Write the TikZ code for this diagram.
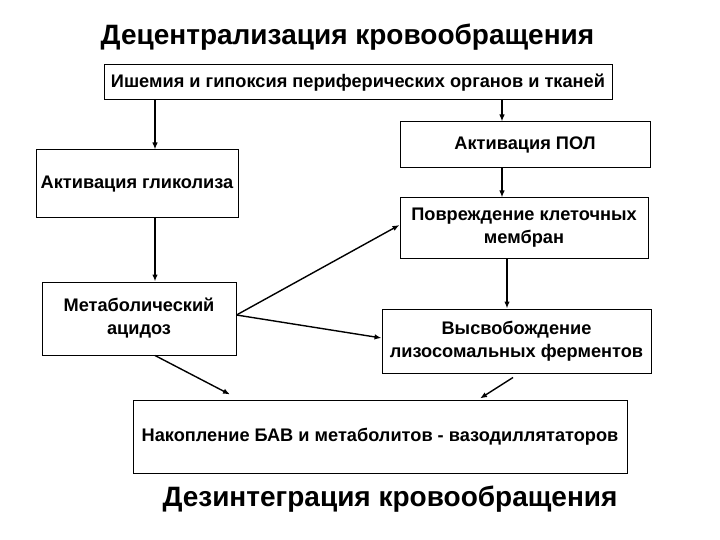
\documentclass[tikz,border=0pt]{standalone}
\usepackage{fontspec}
\setmainfont{Liberation Sans}
\usetikzlibrary{arrows.meta}
\begin{document}
\begin{tikzpicture}[x=1pt,y=-1pt,
  box/.style={draw, line width=1pt, fill=white, inner sep=0pt, align=center, font=\fontsize{18.2}{23}\selectfont\bfseries},
  arr/.style={draw, line width=1.4pt, -{Latex[length=7pt,width=5.5pt]}},
  ttl/.style={font=\fontsize{28}{32}\selectfont\bfseries}]
\useasboundingbox (0,0) rectangle (720,540);
\fill[white] (0,0) rectangle (720,540);
\node[ttl] (t1) at (347.5,37) {Децентрализация кровообращения};
\node[ttl] (t2) at (390,499) {Дезинтеграция кровообращения};
\node[box, minimum width=508pt, minimum height=35pt] (top) at (358,82.5) {Ишемия и гипоксия периферических органов и тканей};
\node[box, minimum width=250pt, minimum height=46pt] (pol) at (525,145) {Активация ПОЛ};
\node[box, minimum width=202pt, minimum height=68pt] (glyc) at (137,184) {Активация гликолиза};
\node[box, minimum width=248pt, minimum height=60pt] (dmg) at (524,228) {Повреждение клеточных\\мембран};
\node[box, minimum width=194pt, minimum height=73pt] (met) at (139,318.5) {Метаболический\\ацидоз};
\node[box, minimum width=269pt, minimum height=64pt] (rel) at (516.5,341) {Высвобождение\\лизосомальных ферментов};
\node[box, minimum width=494pt, minimum height=73pt] (bav) at (380,436.5) {Накопление БАВ и метаболитов - вазодиллятаторов};
\draw[arr] ([xshift=18pt]glyc.north |- top.south) -- ([xshift=18pt]glyc.north);
\draw[arr] ([xshift=-23pt]pol.north |- top.south) -- ([xshift=-23pt]pol.north);
\draw[arr] ([xshift=-23pt]pol.south) -- ([xshift=-23pt]pol.south |- dmg.north);
\draw[arr] ([xshift=-17pt]dmg.south) -- ([xshift=-17pt]dmg.south |- rel.north);
\draw[arr] ([xshift=18pt]glyc.south) -- ([xshift=18pt]glyc.south |- met.north);
\draw[arr] ([yshift=3.5pt]met.east) -- ([yshift=3pt]dmg.west);
\draw[arr] ([yshift=3.5pt]met.east) -- ([yshift=3pt]rel.west);
\draw[arr] ([xshift=16pt]met.south) -- ([xshift=-150pt,yshift=5pt]bav.north);
\draw[arr] ([xshift=-3.5pt,yshift=-4pt]rel.south) -- ([xshift=100pt,yshift=1pt]bav.north);
\end{tikzpicture}
\end{document}
